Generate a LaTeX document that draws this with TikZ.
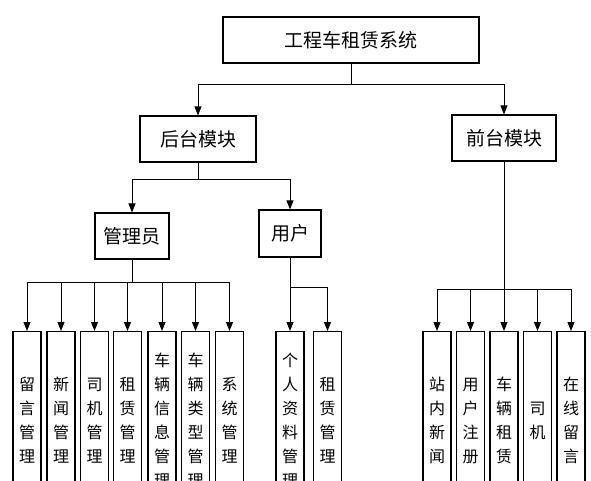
\documentclass[tikz,border=0pt]{standalone}
\usepackage{fontspec}
\setmainfont{Noto Sans CJK SC}
\usetikzlibrary{arrows.meta}
\begin{document}
\begin{tikzpicture}[x=1pt,y=-1pt,
  box/.style={draw, line width=1.1pt, inner sep=0pt, font=\fontsize{19}{24}\selectfont},
  leaf/.style={draw, line width=1.1pt, inner sep=0pt, minimum width=28pt, minimum height=178pt, anchor=north, align=center, font=\fontsize{16}{24}\selectfont},
  arr/.style={-{Triangle[length=9pt,width=7pt]}, line width=0.9pt},
  ln/.style={line width=0.9pt}]
\useasboundingbox (0,0) rectangle (591,481);
\clip (0,0) rectangle (591,481);
% main boxes
\node[box, minimum width=256pt, minimum height=46pt] (sys) at (351,40) {工程车租赁系统};
\node[box, minimum width=116pt, minimum height=46pt] (back) at (198,139) {后台模块};
\node[box, minimum width=104pt, minimum height=46pt] (front) at (504,138) {前台模块};
\node[box, minimum width=74pt, minimum height=46pt] (admin) at (132,236) {管理员};
\node[box, minimum width=62pt, minimum height=47pt] (user) at (290,233.5) {用户};
% admin leaves
\node[leaf] (a1) at (27,331) {留\\言\\管\\理};
\node[leaf] (a2) at (61,331) {新\\闻\\管\\理};
\node[leaf] (a3) at (94.5,331) {司\\机\\管\\理};
\node[leaf] (a4) at (127.5,331) {租\\赁\\管\\理};
\node[leaf] (a5) at (162,331) {车\\辆\\信\\息\\管\\理};
\node[leaf] (a6) at (195.5,331) {车\\辆\\类\\型\\管\\理};
\node[leaf] (a7) at (229.5,331) {系\\统\\管\\理};
% user leaves
\node[leaf] (u1) at (290,331) {个\\人\\资\\料\\管\\理};
\node[leaf] (u2) at (327.5,331) {租\\赁\\管\\理};
% front leaves
\node[leaf] (f1) at (437,331) {站\\内\\新\\闻};
\node[leaf] (f2) at (470.5,331) {用\\户\\注\\册};
\node[leaf] (f3) at (504,331) {车\\辆\\租\\赁};
\node[leaf] (f4) at (537.5,331) {司\\机};
\node[leaf] (f5) at (571,331) {在\\线\\留\\言};
% bus points
\coordinate (b1) at (351,84);
\coordinate (b2) at (198,179);
\coordinate (b3) at (132,282);
\coordinate (b4) at (290,287);
\coordinate (b5) at (504,289);
% connectors
\draw[ln] (sys.south) -- (b1);
\draw[arr] (b1) -| (back.north);
\draw[arr] (b1) -| (front.north);
\draw[ln] (back.south) -- (b2);
\draw[arr] (b2) -| (admin.north);
\draw[arr] (b2) -| (user.north);
\draw[ln] (admin.south) -- (b3);
\foreach \n in {a1,a2,a3,a4,a5,a6,a7} {\draw[arr] (b3) -| (\n.north);}
\draw[arr] (user.south) -- (u1.north);
\draw[arr] (b4) -| (u2.north);
\draw[arr] (front.south) -- (f3.north);
\foreach \n in {f1,f2,f4,f5} {\draw[arr] (b5) -| (\n.north);}
\end{tikzpicture}
\end{document}
